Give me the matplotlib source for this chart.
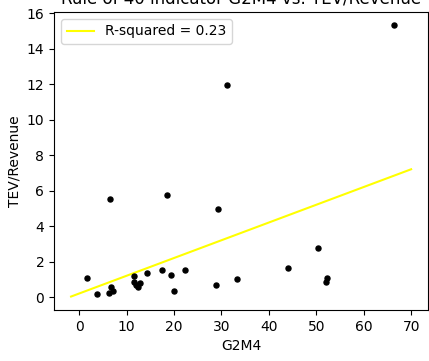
import matplotlib.pyplot as plt
import numpy as np

# G2M4 (Rule of 40 indicator) and TEV/Revenue per company
g2m4 = [66.3, 31.2, 6.5, 18.5, 29.3, 50.3, 44.1, 33.2, 52.2, 52.0, 28.9,
        22.4, 19.9, 19.4, 17.4, 1.7, 3.7, 14.4, 11.5, 11.6, 12.8, 12.4,
        12.0, 6.7, 7.1, 6.4]
tev_rev = [15.3, 11.95, 5.5, 5.75, 4.98, 2.79, 1.63, 1.02, 1.1, 0.85, 0.7,
           1.55, 0.33, 1.24, 1.55, 1.1, 0.16, 1.34, 1.16, 0.87, 0.8, 0.58,
           0.7, 0.58, 0.33, 0.25]

# linear fit
slope = 0.1
intercept = 0.2
r_squared = 0.23
fit_x = np.linspace(-1.7, 70, 50)

fig = plt.figure(figsize=(4.29, 3.61), dpi=100)
ax = fig.add_axes([0.126, 0.141, 0.872, 0.826])
ax.scatter(g2m4, tev_rev, s=13, c='black', zorder=3)
ax.plot(fit_x, slope * fit_x + intercept, color='yellow', linewidth=1.5,
        label='R-squared = %.2f' % r_squared)
ax.set_xticks(np.arange(0, 71, 10))
ax.set_yticks(np.arange(0, 17, 2))
ax.set_xlabel('G2M4')
ax.set_ylabel('TEV/Revenue')
ax.set_title('Rule of 40 indicator G2M4 vs. TEV/Revenue')
ax.legend(loc='upper left')
fig.savefig('out.png', dpi=100)
